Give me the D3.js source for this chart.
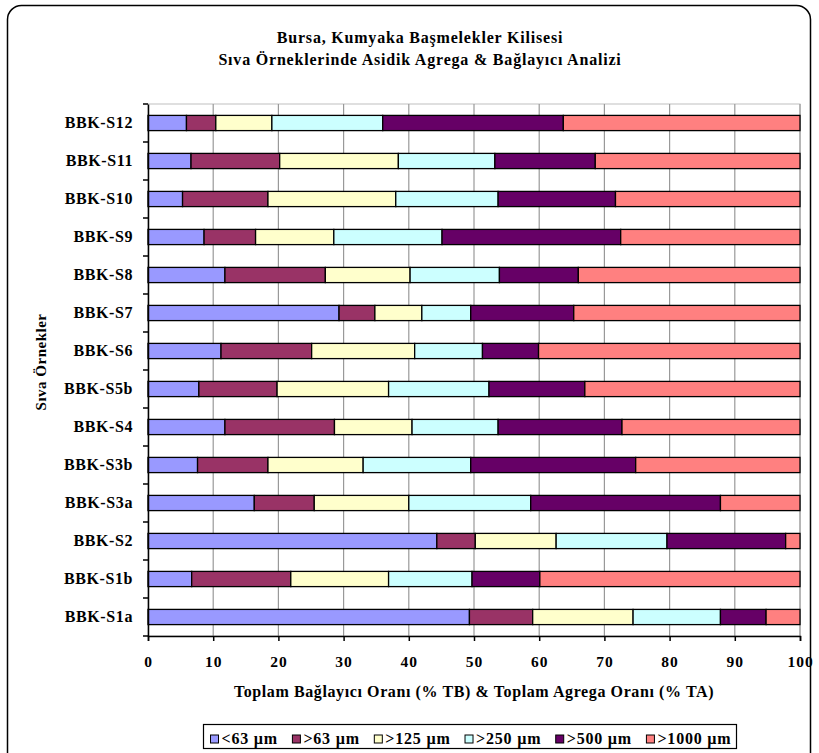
<!DOCTYPE html>
<html><head><meta charset="utf-8">
<script src="https://cdn.jsdelivr.net/npm/d3@7"></script>
<style>body{margin:0;background:#fff}svg{display:block}</style>
</head><body>
<svg id="c" width="819" height="753"></svg>
<script>
const categories = ["BBK-S12","BBK-S11","BBK-S10","BBK-S9","BBK-S8","BBK-S7","BBK-S6","BBK-S5b","BBK-S4","BBK-S3b","BBK-S3a","BBK-S2","BBK-S1b","BBK-S1a"];
const seriesNames = ["<63 µm",">63 µm",">125 µm",">250 µm",">500 µm",">1000 µm"];
const s63less  = [5.9, 6.6, 5.3, 8.6, 11.8, 29.3, 11.2, 7.8, 11.8, 7.6, 16.3, 44.3, 6.7, 49.3];
const s63      = [4.5, 13.6, 13.1, 7.9, 15.4, 5.5, 13.9, 12.0, 16.8, 10.8, 9.2, 5.9, 15.2, 9.7];
const s125     = [8.6, 18.2, 19.6, 12.0, 13.0, 7.2, 15.8, 17.1, 11.9, 14.6, 14.5, 12.4, 15.0, 15.4];
const s250     = [17.0, 14.8, 15.7, 16.6, 13.7, 7.5, 10.4, 15.4, 13.2, 16.5, 18.7, 17.0, 12.8, 13.4];
const s500     = [27.7, 15.4, 18.0, 27.4, 12.1, 15.8, 8.6, 14.7, 19.0, 25.3, 29.1, 18.2, 10.4, 7.0];
const s1000    = [36.3, 31.4, 28.3, 27.5, 34.0, 34.7, 40.1, 33.0, 27.3, 25.2, 12.2, 2.2, 39.9, 5.2];
const xTicks = [0,10,20,30,40,50,60,70,80,90,100];
const colors = ["#9999FF","#993366","#FFFFCC","#CCFFFF","#660066","#FF8080"];
const titleLines = ["Bursa, Kumyaka Başmelekler Kilisesi","Sıva Örneklerinde Asidik Agrega & Bağlayıcı Analizi"];
const xTitle = "Toplam Bağlayıcı Oranı (% TB) & Toplam Agrega Oranı (% TA)";
const yTitle = "Sıva Örnekler";

const allSeries = [s63less,s63,s125,s250,s500,s1000];
const rows = categories.map((c,i)=>{const o={cat:c}; seriesNames.forEach((s,j)=>o[s]=allSeries[j][i]); return o;});
const stack = d3.stack().keys(seriesNames)(rows);

const svg = d3.select("#c");
const font = "'Liberation Serif','Times New Roman',serif";
const L=148,R=800,T=104,B=636;
const x = d3.scaleLinear().domain([0,100]).range([L,R]);
const y = d3.scaleBand().domain(categories).range([T,B]).paddingInner(0.6).paddingOuter(0.3);

function styleText(sel,size,ls){
  sel.attr("font-family",font).attr("font-weight","bold").attr("font-size",size)
     .attr("letter-spacing",ls).attr("fill","#000");
}

// frame
svg.append("rect").attr("x",7.5).attr("y",5.5).attr("width",803).attr("height",800)
  .attr("rx",14).attr("fill","#fff").attr("stroke","#000").attr("stroke-width",1.5);

// title
svg.append("g").selectAll("text").data(titleLines).join("text")
  .attr("x",420).attr("y",(d,i)=>43+i*21.5).attr("text-anchor","middle")
  .call(styleText,16,0.8).text(d=>d);

// plot area border
svg.append("rect").attr("x",L).attr("y",T).attr("width",R-L).attr("height",B-T)
  .attr("fill","none").attr("stroke","#c0c0c0").attr("stroke-width",1);

// gridlines
svg.append("g").selectAll("line").data(xTicks.slice(1)).join("line")
  .attr("x1",d=>x(d)).attr("x2",d=>x(d)).attr("y1",T).attr("y2",B)
  .attr("stroke","#999").attr("stroke-width",1.2);

// bars
svg.append("g").selectAll("g").data(stack).join("g").attr("fill",(d,i)=>colors[i])
  .selectAll("rect").data(d=>d).join("rect")
  .attr("x",d=>x(d[0])).attr("width",d=>x(d[1])-x(d[0]))
  .attr("y",d=>y(d.data.cat)).attr("height",y.bandwidth())
  .attr("stroke","#000").attr("stroke-width",1.3);

// x axis
const xa = svg.append("g").attr("transform",`translate(0,${B})`)
  .call(d3.axisBottom(x).tickValues(xTicks).tickSize(5).tickPadding(0).tickFormat(d3.format("d")));
xa.select(".domain").attr("stroke","#000").attr("stroke-width",1.5);
xa.selectAll(".tick line").attr("stroke","#000").attr("stroke-width",1.5);
xa.selectAll("text").call(styleText,15.5,1).attr("dy",null).attr("y",31);

// y axis
const ya = svg.append("g").attr("transform",`translate(${L},0)`)
  .call(d3.axisLeft(y).tickSize(0).tickPadding(15));
ya.select(".domain").attr("stroke","#000").attr("stroke-width",1.5);
ya.selectAll("text").call(styleText,16,0.6);
const step = y.step();
ya.append("g").selectAll("line").data(d3.range(categories.length+1)).join("line")
  .attr("x1",-5).attr("x2",0).attr("y1",i=>T+i*step).attr("y2",i=>T+i*step)
  .attr("stroke","#000").attr("stroke-width",1.5);

// axis titles
svg.append("text").attr("x",(L+R)/2).attr("y",697).attr("text-anchor","middle")
  .call(styleText,16,0.6).text(xTitle);
svg.append("text").attr("transform",`translate(46,362) rotate(-90)`).attr("text-anchor","middle")
  .call(styleText,15,0.5).text(yTitle);

// legend
const lg = svg.append("g");
const boxL=203.5, boxR=736.5;
lg.append("rect").attr("x",boxL).attr("y",724.5).attr("width",boxR-boxL).attr("height",24)
  .attr("fill","#fff").attr("stroke","#000").attr("stroke-width",1.2);
const items = lg.selectAll("g.it").data(seriesNames).join("g").attr("class","it");
items.append("rect").attr("x",0).attr("y",735).attr("width",8).attr("height",8)
  .attr("fill",(d,i)=>colors[i]).attr("stroke","#000").attr("stroke-width",1);
items.append("text").attr("x",11).attr("y",743.5)
  .call(styleText,16,0.8).text(d=>d);
const widths = [];
items.select("text").each(function(){widths.push(this.getComputedTextLength());});
const startX = boxL+7, endX = boxR-5;
const content = d3.sum(widths) + widths.length*11;
const gap = (endX-startX-content)/(widths.length-1);
let cx = startX;
items.each(function(d,i){
  d3.select(this).attr("transform",`translate(${cx},0)`);
  cx += 11 + widths[i] + gap;
});
</script>
</body></html>
